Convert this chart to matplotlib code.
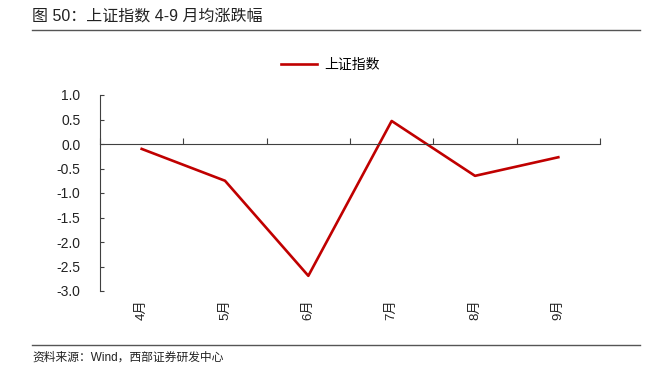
import matplotlib
matplotlib.use('Agg')
import matplotlib.pyplot as plt
from matplotlib.lines import Line2D

plt.rcParams['font.family'] = ['Liberation Sans', 'Noto Sans CJK SC', 'DejaVu Sans']

# data
months = ['4月', '5月', '6月', '7月', '8月', '9月']
sh_index = [-0.10, -0.75, -2.69, 0.47, -0.65, -0.27]
yticks = [1.0, 0.5, 0.0, -0.5, -1.0, -1.5, -2.0, -2.5, -3.0]

axis_color = '#404040'
line_color = '#C00000'

fig = plt.figure(figsize=(6.46, 3.77), dpi=100)
ax = fig.add_axes([100/646, 1 - 291/377, 500/646, 196/377])

x = list(range(len(months)))
ax.plot(x, sh_index, color=line_color, linewidth=1.9, label='上证指数')

ax.set_xlim(-0.5, len(months) - 0.5)
ax.set_ylim(-3.0, 1.0)
ax.set_yticks(yticks)
ax.set_yticklabels(['%.1f' % v for v in yticks], fontsize=10, color='#222222')
ax.tick_params(axis='y', direction='in', length=3, width=0.8, color=axis_color, pad=14)

# bottom spine sits on zero with boundary ticks pointing up
ax.spines['bottom'].set_position(('data', 0))
ax.spines['bottom'].set_color(axis_color)
ax.spines['left'].set_color(axis_color)
ax.spines['top'].set_visible(False)
ax.spines['right'].set_visible(False)
ax.set_xticks([i - 0.5 for i in range(len(months) + 1)])
ax.set_xticklabels([])
ax.tick_params(axis='x', direction='in', length=4, width=0.8, color=axis_color)

# category labels at the bottom
sec = ax.secondary_xaxis(0)
sec.set_xticks(x)
sec.set_xticklabels(months, rotation=90, fontsize=9.5, color='#222222')
sec.tick_params(length=0, pad=6)
sec.spines['bottom'].set_visible(False)

# legend
handle = Line2D([], [], color=line_color, linewidth=1.9)
fig.legend([handle], ['上证指数'], loc='center', bbox_to_anchor=(330/646, 1 - 65/377),
           frameon=False, fontsize=10, handlelength=2.6, handletextpad=0.5)

# title and source
fig.text(32/646, 1 - 16/377, '图 50：上证指数 4-9 月均涨跌幅', fontsize=11.5,
         va='center', ha='left', color='#222222')
fig.add_artist(Line2D([32/646, 640/646], [1 - 30/377, 1 - 30/377],
                      color='#555555', linewidth=1.0))
fig.add_artist(Line2D([32/646, 640/646], [1 - 345/377, 1 - 345/377],
                      color='#555555', linewidth=1.0))
fig.text(32/646, 1 - 358/377, '资料来源：Wind，西部证券研发中心', fontsize=8.5,
         va='center', ha='left', color='#222222')

fig.savefig('out.png', dpi=100)
